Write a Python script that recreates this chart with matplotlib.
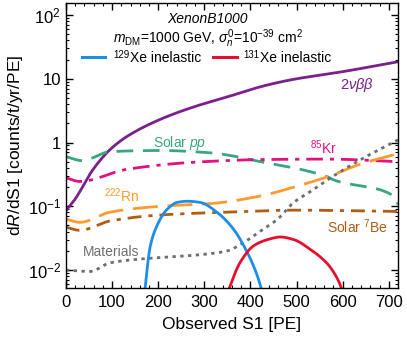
import numpy as np
import matplotlib
matplotlib.use("Agg")
import matplotlib.pyplot as plt
from matplotlib.ticker import MultipleLocator, LogLocator, FixedLocator, FixedFormatter, NullFormatter

plt.rcParams['font.family'] = ['Liberation Sans', 'DejaVu Sans']
plt.rcParams['mathtext.fontset'] = 'custom'
plt.rcParams['mathtext.rm'] = 'Liberation Sans'
plt.rcParams['mathtext.it'] = 'Liberation Sans:italic'

# 2 neutrino double beta
bb_x = [0, 20, 59, 96, 132, 204, 276, 350, 422, 487, 602, 720]
bb_y = [0.085, 0.13, 0.38, 0.78, 1.24, 2.3, 3.6, 5.2, 7.5, 9.6, 13.0, 18.5]
# Solar pp
pp_x = [0, 35, 96, 204, 313, 422, 567, 580, 711, 720]
pp_y = [0.6, 0.52, 0.72, 0.75, 0.69, 0.5, 0.29, 0.26, 0.145, 0.107]
# 85Kr
kr_x = [0, 30, 132, 276, 422, 567, 720]
kr_y = [0.28, 0.245, 0.38, 0.49, 0.54, 0.55, 0.5]
# 222Rn
rn_x = [0, 30, 96, 204, 313, 422, 494, 567, 639, 720]
rn_y = [0.063, 0.056, 0.081, 0.1, 0.11, 0.145, 0.2, 0.29, 0.46, 0.67]
# Solar 7Be
be_x = [0, 30, 96, 204, 350, 494, 720]
be_y = [0.047, 0.042, 0.059, 0.073, 0.081, 0.087, 0.083]
# Materials
mat_x = [0, 52, 96, 167, 276, 350, 385, 422, 459, 494, 530, 567, 639, 720]
mat_y = [0.01, 0.0095, 0.013, 0.015, 0.017, 0.020, 0.027, 0.041, 0.063, 0.115, 0.17, 0.26, 0.54, 1.1]
# 129Xe inelastic
x129_x = [168, 183, 197, 219, 241, 263, 291, 328, 363, 393, 415, 430]
x129_y = [0.003, 0.024, 0.049, 0.089, 0.115, 0.12, 0.115, 0.08, 0.044, 0.019, 0.0081, 0.0035]
# 131Xe inelastic
x131_x = [345, 378, 407, 437, 465, 494, 530, 567, 589, 606]
x131_y = [0.0035, 0.0133, 0.024, 0.030, 0.033, 0.030, 0.021, 0.0125, 0.0072, 0.0035]

def smooth(xs, ys, n=300):
    xs = np.asarray(xs, float); ly = np.log10(np.asarray(ys, float))
    xx = np.linspace(xs[0], xs[-1], n)
    h = np.diff(xs); d = np.diff(ly) / h
    m = np.zeros_like(ly)
    m[0] = d[0]; m[-1] = d[-1]
    for i in range(1, len(xs) - 1):
        if d[i-1] * d[i] <= 0:
            m[i] = 0
        else:
            w1 = 2*h[i] + h[i-1]; w2 = h[i] + 2*h[i-1]
            m[i] = (w1 + w2) / (w1/d[i-1] + w2/d[i])
    idx = np.clip(np.searchsorted(xs, xx) - 1, 0, len(xs) - 2)
    t = (xx - xs[idx]) / h[idx]
    h00 = 2*t**3 - 3*t**2 + 1; h10 = t**3 - 2*t**2 + t
    h01 = -2*t**3 + 3*t**2; h11 = t**3 - t**2
    yy = h00*ly[idx] + h10*h[idx]*m[idx] + h01*ly[idx+1] + h11*h[idx]*m[idx+1]
    return xx, 10**yy

fig = plt.figure(figsize=(4.07, 3.39), dpi=100)
ax = fig.add_axes([0.162, 0.150, 0.816, 0.841])

c_bb = '#7b1f8c'; c_pp = '#3aa583'; c_kr = '#e0127f'; c_rn = '#ff9a2e'
c_be = '#b15c12'; c_mat = '#6e6e6e'; c_129 = '#1a8fe8'; c_131 = '#e4102c'

ax.plot(*smooth(bb_x, bb_y), color=c_bb, lw=2)
ax.plot(*smooth(pp_x, pp_y), color=c_pp, lw=2, dashes=(6, 3.5))
ax.plot(*smooth(kr_x, kr_y), color=c_kr, lw=2, dashes=(6, 2.5, 1.5, 2.5))
ax.plot(*smooth(rn_x, rn_y), color=c_rn, lw=2, dashes=(9, 3.5))
ax.plot(*smooth(be_x, be_y), color=c_be, lw=2, dashes=(5, 2.5, 1.5, 2.5))
ax.plot(*smooth(mat_x, mat_y), color=c_mat, lw=2, dashes=(1.2, 1.6))
ax.plot(*smooth(x129_x, x129_y), color=c_129, lw=2)
ax.plot(*smooth(x131_x, x131_y), color=c_131, lw=2)

ax.set_xlim(0, 720)
ax.set_yscale('log')
ax.set_ylim(0.0052, 154)

ax.xaxis.set_major_locator(MultipleLocator(100))
ax.xaxis.set_minor_locator(MultipleLocator(20))
ax.yaxis.set_major_locator(FixedLocator([0.01, 0.1, 1, 10, 100]))
ax.yaxis.set_major_formatter(FixedFormatter([r'$10^{-2}$', r'$10^{-1}$', '1', '10', r'$10^{2}$']))
ax.yaxis.set_minor_locator(LogLocator(base=10, subs=np.arange(2, 10)))
ax.yaxis.set_minor_formatter(NullFormatter())
ax.tick_params(which='both', direction='in', top=True, right=True, labelsize=12)
ax.tick_params(which='major', length=5, width=1)
ax.tick_params(axis='x', which='major', pad=5)
ax.tick_params(which='minor', length=2.5, width=0.8)
for s in ax.spines.values():
    s.set_linewidth(1)

ax.set_xlabel('Observed S1 [PE]', fontsize=12.5, labelpad=5)
ax.set_ylabel(r'd$R$/dS1 [counts/t/yr/PE]', fontsize=12.5, labelpad=2)

def px(xp, yp):
    return ((xp - 66) / 332.0, 1 - (yp - 3) / 285.0)

fs = 10
ax.text(*px(208, 23), 'XenonB1000', transform=ax.transAxes, ha='center', va='baseline',
        fontsize=fs, style='italic')
ax.text(*px(208, 42.5), r'$m_{\rm DM}$=1000 GeV, $\sigma_n^0$=10$^{-39}$ cm$^2$',
        transform=ax.transAxes, ha='center', va='baseline', fontsize=fs)
ax.plot([px(82, 56.5)[0], px(105, 56.5)[0]], [px(82, 56.5)[1]] * 2, transform=ax.transAxes,
        color=c_129, lw=2.2)
ax.text(*px(113, 58), '129', transform=ax.transAxes, ha='left', va='baseline', fontsize=7)
ax.text(*px(130, 62), 'Xe inelastic', transform=ax.transAxes, ha='left',
        va='baseline', fontsize=fs)
ax.plot([px(213, 56.5)[0], px(237, 56.5)[0]], [px(213, 56.5)[1]] * 2, transform=ax.transAxes,
        color=c_131, lw=2.2)
ax.text(*px(243, 58), '131', transform=ax.transAxes, ha='left', va='baseline', fontsize=7)
ax.text(*px(260, 62), 'Xe inelastic', transform=ax.transAxes, ha='left',
        va='baseline', fontsize=fs)

ax.text(*px(357, 85), r'$2\nu\beta\beta$', transform=ax.transAxes, ha='center', va='center',
        fontsize=10.5, color=c_bb)
ax.text(*px(180, 143), r'Solar $pp$', transform=ax.transAxes, ha='center', va='center',
        fontsize=fs, color=c_pp)
ax.text(*px(324, 148), r'$^{85}$Kr', transform=ax.transAxes, ha='center', va='center',
        fontsize=fs, color=c_kr)
ax.text(*px(122, 196), r'$^{222}$Rn', transform=ax.transAxes, ha='center', va='center',
        fontsize=fs, color=c_rn)
ax.text(*px(357, 227), r'Solar $^{7}$Be', transform=ax.transAxes, ha='center', va='center',
        fontsize=fs, color=c_be)
ax.text(*px(111, 252), 'Materials', transform=ax.transAxes, ha='center', va='center',
        fontsize=fs, color=c_mat)

fig.savefig('out.png', dpi=100)
